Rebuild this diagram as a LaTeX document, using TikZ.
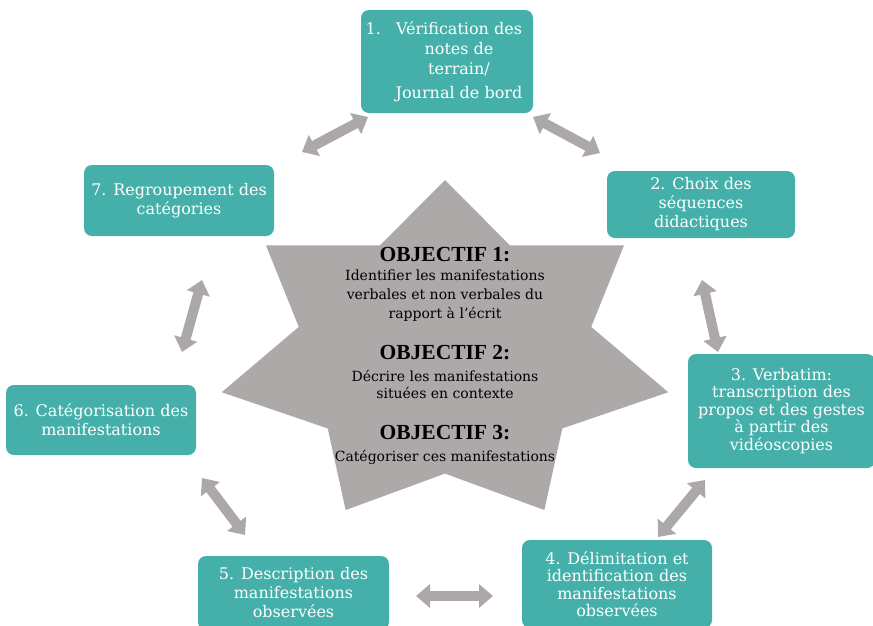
\documentclass[tikz,border=0pt]{standalone}
\usepackage{fontspec}
\setmainfont{DejaVu Serif}
\newfontfamily\headfont{Liberation Serif}
\usetikzlibrary{arrows.meta}
\definecolor{teal1}{HTML}{45B0AA}
\definecolor{stargray}{HTML}{ADA9A8}
\definecolor{arrgray}{HTML}{ACA8A7}
\begin{document}
\begin{tikzpicture}[x=1pt,y=-1pt,
  box/.style={fill=teal1, rounded corners=8pt, inner sep=0pt, text=white, align=center,
    font=\fontsize{16}{19}\selectfont},
  boxtext/.style={inner sep=0pt, text=white, align=center, font=\fontsize{16}{20}\selectfont},
  dbl/.style={draw=arrgray, line width=10pt,
    {Triangle[width=23pt,length=14pt]}-{Triangle[width=23pt,length=14pt]}},
  head/.style={font=\headfont\bfseries\fontsize{21.5}{24}\selectfont, inner sep=0pt},
  body/.style={font=\fontsize{14}{19}\selectfont, align=center, inner sep=0pt}]
\useasboundingbox (0,0) rectangle (873,625);
\clip (0,0) rectangle (873,625);
\fill[white] (0,0) rectangle (873,625);

% star
\fill[stargray] ({445+229*cos(90)},{353.6-173.6*sin(90)})
  \foreach \k in {0,...,6}{
   -- ({445+150*cos(90+(\k+0.5)*360/7)},{353.6-120*sin(90+(\k+0.5)*360/7)})
   -- ({445+229*cos(90+(\k+1)*360/7)},{353.6-173.6*sin(90+(\k+1)*360/7)}) } -- cycle;

% boxes
\node[box, minimum width=172pt, minimum height=103pt] (b1) at (447,61.5) {};
\node[boxtext] (t1) at (459,62) {\llap{1.\hspace{15pt}}Vérification des\\notes de\\terrain/\\[4pt]Journal de bord};
\node[box, minimum width=188pt, minimum height=67pt] (b2) at (701,204.5) {2. Choix des\\séquences\\didactiques};
\node[box, minimum width=187pt, minimum height=114pt, font=\fontsize{16}{17.5}\selectfont] (b3) at (781.5,411) {3. Verbatim:\\transcription des\\propos et des gestes\\à partir des\\vidéoscopies};
\node[box, minimum width=190pt, minimum height=88pt, font=\fontsize{16}{17.5}\selectfont] (b4) at (617,584) {4. Délimitation et\\identification des\\manifestations\\observées};
\node[box, minimum width=191pt, minimum height=74pt] (b5) at (293.5,593) {5. Description des\\manifestations\\observées};
\node[box, minimum width=190pt, minimum height=70pt] (b6) at (101,420) {6. Catégorisation des\\manifestations};
\node[box, minimum width=190pt, minimum height=71pt] (b7) at (179,200.5) {7. Regroupement des\\catégories};

% objectives
\node[head] (h1) at (445,255) {OBJECTIF 1:};
\node[body] (o1) at (445,296) {Identifier les manifestations\\verbales et non verbales du\\rapport à l’écrit};
\node[head] (h2) at (445,353) {OBJECTIF 2:};
\node[body, font=\fontsize{14}{17}\selectfont] (o2) at (445,384.5) {Décrire les manifestations\\situées en contexte};
\node[head] (h3) at (445,433) {OBJECTIF 3:};
\node[body] (o3) at (445,457) {Catégoriser ces manifestations};

% arrows
\coordinate (a1s) at (302,152); \coordinate (a1e) at (368,117);
\coordinate (a2s) at (533,117); \coordinate (a2e) at (600,153);
\coordinate (a3s) at (702,280); \coordinate (a3e) at (718,352);
\coordinate (a4s) at (705,480); \coordinate (a4e) at (658,537);
\coordinate (a5s) at (493,596); \coordinate (a5e) at (416,596);
\coordinate (a6s) at (245,535); \coordinate (a6e) at (202,478);
\coordinate (a7s) at (182,352); \coordinate (a7e) at (202,280);
\draw[dbl] (a1s) -- (a1e);
\draw[dbl] (a2s) -- (a2e);
\draw[dbl] (a3s) -- (a3e);
\draw[dbl] (a4s) -- (a4e);
\draw[dbl] (a5s) -- (a5e);
\draw[dbl] (a6s) -- (a6e);
\draw[dbl] (a7s) -- (a7e);
\end{tikzpicture}
\end{document}
